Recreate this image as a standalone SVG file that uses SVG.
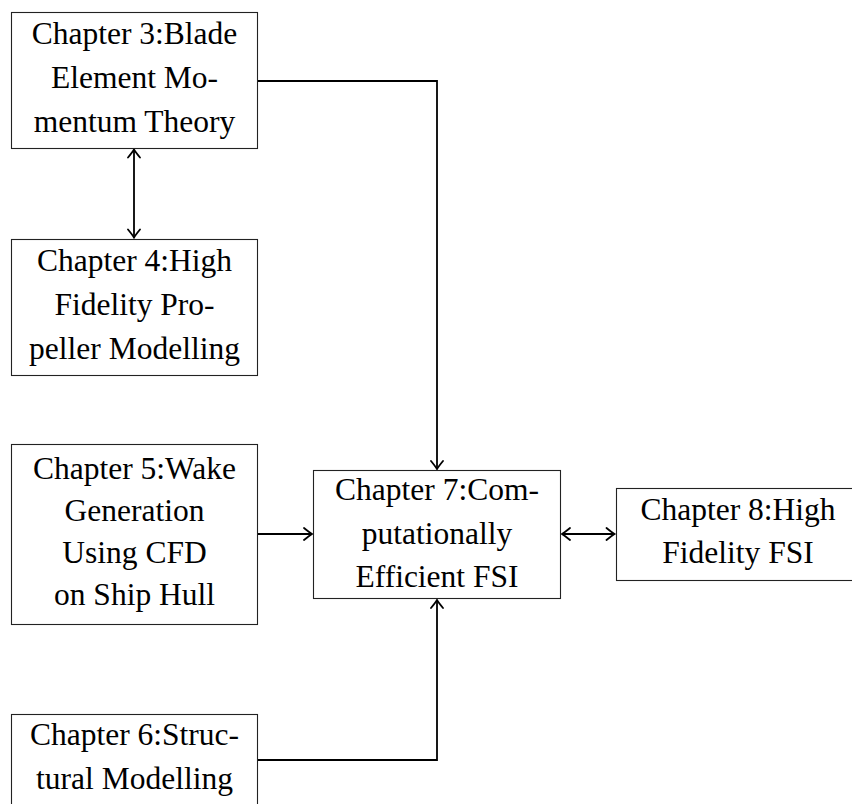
<svg xmlns="http://www.w3.org/2000/svg" width="852" height="804" viewBox="0 0 852 804">
<style>
.box{fill:#fff;stroke:#222;stroke-width:1.1}
.lbl{font-family:"Liberation Serif","Times New Roman",serif;font-size:31.5px;fill:#000;text-anchor:middle}
.edge{fill:none;stroke:#000;stroke-width:1.8}
</style>
<defs>
<marker id="ah" viewBox="-10 -7 12 14" refX="0" refY="0" markerWidth="12" markerHeight="14" markerUnits="userSpaceOnUse" orient="auto-start-reverse">
<path d="M-8,-6 Q-2.5,-1.5 0,0 Q-2.5,1.5 -8,6" fill="none" stroke="#000" stroke-width="1.8" stroke-linecap="round"/>
</marker>
</defs>
<rect width="852" height="804" fill="#fff"/>
<g id="connectors">
<path class="edge" d="M257.5,81 H437 V469" marker-end="url(#ah)"/>
<path class="edge" d="M134,149.5 V237.5" marker-start="url(#ah)" marker-end="url(#ah)"/>
<path class="edge" d="M257.5,534 H312" marker-end="url(#ah)"/>
<path class="edge" d="M562,534 H614.5" marker-start="url(#ah)" marker-end="url(#ah)"/>
<path class="edge" d="M257.5,760 H437 V600" marker-end="url(#ah)"/>
</g>
<g id="ch3">
<rect class="box" x="11.5" y="12.5" width="246" height="136"/>
<text class="lbl" x="134.5" y="44">Chapter 3:Blade</text>
<text class="lbl" x="134.5" y="88">Element Mo-</text>
<text class="lbl" x="134.5" y="132">mentum Theory</text>
</g>
<g id="ch4">
<rect class="box" x="11.5" y="239.5" width="246" height="136"/>
<text class="lbl" x="134.5" y="270.5">Chapter 4:High</text>
<text class="lbl" x="134.5" y="314.5">Fidelity Pro-</text>
<text class="lbl" x="134.5" y="358.5">peller Modelling</text>
</g>
<g id="ch5">
<rect class="box" x="11.5" y="444.5" width="246" height="180"/>
<text class="lbl" x="134.5" y="479">Chapter 5:Wake</text>
<text class="lbl" x="134.5" y="521">Generation</text>
<text class="lbl" x="134.5" y="563">Using CFD</text>
<text class="lbl" x="134.5" y="605">on Ship Hull</text>
</g>
<g id="ch6">
<rect class="box" x="11.5" y="714.5" width="246" height="92"/>
<text class="lbl" x="134.5" y="745">Chapter 6:Struc-</text>
<text class="lbl" x="134.5" y="789">tural Modelling</text>
</g>
<g id="ch7">
<rect class="box" x="313.5" y="470.5" width="247" height="128"/>
<text class="lbl" x="437" y="500">Chapter 7:Com-</text>
<text class="lbl" x="437" y="543.5">putationally</text>
<text class="lbl" x="437" y="587">Efficient FSI</text>
</g>
<g id="ch8">
<rect class="box" x="616.5" y="488.5" width="244" height="92"/>
<text class="lbl" x="738" y="520">Chapter 8:High</text>
<text class="lbl" x="738" y="563">Fidelity FSI</text>
</g>
</svg>
